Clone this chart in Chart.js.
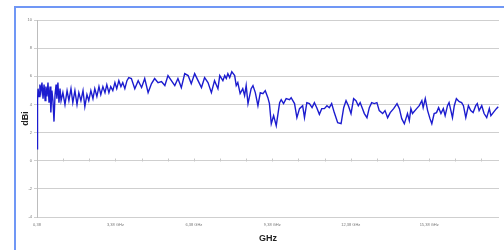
<!DOCTYPE html>
<html>
<head>
<meta charset="utf-8">
<script src="https://cdn.jsdelivr.net/npm/chart.js@4/dist/chart.umd.min.js"></script>
<style>
html,body{margin:0;padding:0;background:#fff;overflow:hidden;}
#wrap{position:relative;width:504px;height:250px;}
#frame{position:absolute;left:14px;top:6px;width:500px;height:260px;border:2px solid #7097f5;box-sizing:border-box;pointer-events:none;}
canvas{position:absolute;left:0;top:0;}
</style>
</head>
<body>
<div id="wrap">
<canvas id="c" width="504" height="250"></canvas>
<div id="frame"></div>
</div>
<script>
// Frequency (GHz)
const freq = [
0.38,0.40,0.42,0.46,0.49,0.53,0.57,0.61,0.65,0.69,0.72,0.76,0.80,0.84,0.88,0.91,0.95,0.99,1.03,1.07,
1.11,1.14,1.18,1.22,1.26,1.30,1.37,1.45,1.53,1.60,1.68,1.75,1.83,1.91,1.98,2.06,2.14,2.21,2.29,2.36,
2.44,2.52,2.59,2.67,2.75,2.82,2.90,2.98,3.05,3.13,3.20,3.28,3.36,3.43,3.51,3.59,3.66,3.74,3.82,3.89,
3.99,4.12,4.25,4.38,4.50,4.63,4.76,4.88,5.01,5.14,5.27,5.39,5.52,5.65,5.77,5.90,6.03,6.16,6.28,6.41,
6.54,6.67,6.79,6.92,7.05,7.17,7.30,
7.37,7.49,7.56,7.62,7.68,7.75,7.83,7.94,8.00,8.06,8.15,8.25,8.32,8.38,8.45,8.57,8.64,8.73,8.83,8.92,
9.02,9.11,9.21,9.27,9.34,9.43,9.53,9.66,9.72,9.81,9.91,10.04,10.10,10.23,10.32,10.42,10.54,10.61,10.70,10.80,
10.90,10.99,11.08,11.18,
11.27,11.37,11.47,11.56,11.65,11.75,11.88,12.01,12.11,12.20,12.29,12.39,12.49,12.58,12.67,12.74,12.83,12.90,13.00,13.09,
13.18,13.28,13.38,13.47,13.60,13.69,13.79,13.89,14.02,14.15,14.24,14.33,14.43,14.49,14.55,14.62,14.68,14.74,
14.90,15.00,15.10,15.15,15.23,15.32,15.41,15.48,15.57,15.66,15.74,15.83,15.92,15.99,16.08,16.14,16.21,16.27,16.34,16.42,
16.53,16.62,16.69,16.78,16.88,16.97,17.06,17.16,17.22,17.29,17.39,17.48,17.58,17.68,17.74,17.83,17.95,18.02
];
// Gain (dBi)
const gain = [
0.85,4.27,5.12,4.56,5.41,4.91,5.55,4.41,5.41,4.27,5.27,4.56,5.55,4.13,5.27,3.42,4.98,4.27,2.78,4.70,
5.41,4.41,5.55,4.13,5.12,4.27,4.84,3.99,4.98,4.27,5.12,4.13,4.98,3.99,4.84,4.27,4.98,3.84,4.70,4.27,
4.98,4.41,5.12,4.56,5.27,4.70,5.27,4.84,5.41,4.84,5.27,4.98,5.55,5.12,5.69,5.27,5.55,5.12,5.69,5.91,
5.84,5.12,5.69,5.20,5.84,4.84,5.48,5.84,5.55,5.62,5.34,6.05,5.69,5.34,5.84,5.20,6.19,6.05,5.48,6.19,
5.69,5.20,5.91,5.55,4.84,5.69,5.12,
6.05,5.69,6.05,5.84,6.19,5.91,6.33,6.05,5.34,5.55,4.77,5.12,4.63,5.34,4.06,5.12,5.34,4.84,3.91,4.84,
4.77,4.98,4.48,4.06,2.63,3.20,2.49,4.13,4.34,4.06,4.41,4.34,4.48,4.06,3.06,3.70,3.91,3.06,4.13,4.06,
3.77,4.13,3.77,3.30,
3.70,3.70,3.91,3.77,4.06,3.42,2.70,2.63,3.77,4.27,3.91,3.35,4.41,4.27,3.91,4.13,3.70,3.35,3.06,3.77,
4.13,4.06,4.13,3.56,3.35,3.56,3.06,3.42,3.70,4.06,3.70,2.99,2.63,2.99,3.35,2.85,3.70,3.35,
3.70,3.91,4.27,3.77,4.41,3.56,2.99,2.63,3.35,3.42,3.77,3.35,3.70,3.20,3.91,4.13,3.56,3.06,3.91,4.41,
4.20,4.13,3.91,3.06,3.91,3.56,3.42,3.91,4.06,3.56,3.91,3.35,3.06,3.70,3.20,3.42,3.70,3.84
];
const xTicks = [0.38, 3.38, 6.38, 9.38, 12.38, 15.38];
const xTickLabels = ["0,38", "3,38 GHz", "6,38 GHz", "9,38 GHz", "12,38 GHz", "15,38 GHz"];
const minorTicks = [1.38,2.38,3.38,4.38,5.38,6.38,7.38,8.38,9.38,10.38,11.38,12.38,13.38,14.38,15.38,16.38,17.38];

const points = freq.map((f, i) => ({x: f, y: gain[i]}));

const minorTickPlugin = {
  id: 'minorTicks',
  afterDatasetsDraw(chart) {
    const ctx = chart.ctx, xs = chart.scales.x, ys = chart.scales.y;
    const y0 = Math.round(ys.getPixelForValue(0)) + 0.5;
    ctx.save();
    ctx.strokeStyle = '#c8c8c8';
    ctx.lineWidth = 1;
    ctx.beginPath();
    minorTicks.forEach(v => {
      const px = Math.round(xs.getPixelForValue(v)) + 0.5;
      ctx.moveTo(px, y0);
      ctx.lineTo(px, y0 - 3);
    });
    ctx.stroke();
    ctx.restore();
  }
};

new Chart(document.getElementById('c'), {
  type: 'line',
  data: {
    datasets: [{
      data: points,
      borderColor: '#1c1ccf',
      borderWidth: 1.4,
      pointRadius: 0,
      tension: 0,
      fill: false
    }]
  },
  options: {
    responsive: false,
    animation: false,
    devicePixelRatio: 1,
    layout: {padding: {left: 18, right: 5, top: 20, bottom: 0}},
    plugins: {legend: {display: false}, tooltip: {enabled: false}},
    scales: {
      x: {
        type: 'linear',
        min: 0.38,
        max: 18.05,
        afterBuildTicks(scale) { scale.ticks = xTicks.map(v => ({value: v})); },
        afterFit(scale) { scale.height = 33; },
        grid: {display: false, drawTicks: false},
        border: {display: false},
        ticks: {
          autoSkip: false,
          maxRotation: 0,
          padding: 5,
          color: '#777',
          font: {family: 'Liberation Sans', size: 4},
          callback(value) { const i = xTicks.indexOf(value); return i >= 0 ? xTickLabels[i] : ''; }
        },
        title: {
          display: true,
          text: 'GHz',
          color: '#222',
          font: {family: 'Liberation Sans', size: 9, weight: 'bold'},
          padding: {top: 0, bottom: 6}
        }
      },
      y: {
        min: -4,
        max: 10,
        afterFit(scale) { scale.width = 19; },
        grid: {color: '#cfcfcf', lineWidth: 1, tickLength: 3},
        border: {color: '#bdbdbd'},
        ticks: {
          stepSize: 2,
          padding: 2,
          color: '#777',
          font: {family: 'Liberation Sans', size: 4}
        },
        title: {
          display: true,
          text: 'dBi',
          color: '#222',
          font: {family: 'Liberation Sans', size: 9, weight: 'bold'},
          padding: {top: 2, bottom: 0}
        }
      }
    }
  },
  plugins: [minorTickPlugin]
});
</script>
</body>
</html>
